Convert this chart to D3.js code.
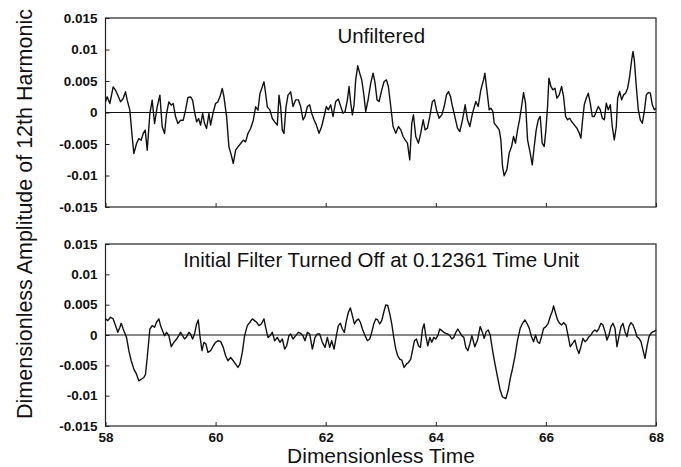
<!DOCTYPE html>
<html>
<head>
<meta charset="utf-8">
<script src="https://cdn.jsdelivr.net/npm/d3@7"></script>
<style>
  body { margin: 0; background: #fff; }
  svg { display: block; font-family: "Liberation Sans", Arial, sans-serif; }
  .tick text { font-size: 13.5px; font-weight: bold; fill: #111; }
  .tick line { stroke: #222; }
</style>
</head>
<body>
<svg id="chart"></svg>
<script>
const size = { w: 681, h: 467 };

// time axis (dimensionless) and amplitude ticks
const xTicks = [58, 60, 62, 64, 66, 68];
const yTicks = [0.015, 0.01, 0.005, 0, -0.005, -0.01, -0.015];
const yTickLabels = ['0.015', '0.01', '0.005', '0', '-0.005', '-0.01', '-0.015'];
const panelTitles = ['Unfiltered', 'Initial Filter Turned Off at 0.12361 Time Unit'];

// [time, amplitude]
const unfiltered = [
  [58.000, 0.00169], [58.030, 0.00249], [58.079, 0.00143], [58.139, 0.00407], [58.182, 0.00354],
  [58.224, 0.00275], [58.273, 0.00169], [58.321, 0.00222], [58.364, 0.00328], [58.394, 0.00196],
  [58.442, 0.00037], [58.485, -0.00386], [58.515, -0.00651], [58.564, -0.00492], [58.606, -0.00413],
  [58.648, -0.00439], [58.685, -0.00333], [58.721, -0.00280], [58.758, -0.00598], [58.806, -0.00016],
  [58.848, 0.00196], [58.891, -0.00175], [58.939, 0.00090], [58.988, 0.00275], [59.030, -0.00227],
  [59.073, -0.00333], [59.109, -0.00016], [59.151, 0.00169], [59.194, 0.00116], [59.230, 0.00143],
  [59.273, -0.00069], [59.315, -0.00175], [59.364, -0.00122], [59.412, -0.00122], [59.454, 0.00037],
  [59.497, 0.00238], [59.545, 0.00249], [59.582, 0.00196], [59.618, 0.00011], [59.655, -0.00148],
  [59.691, -0.00095], [59.727, -0.00201], [59.764, -0.00016], [59.800, -0.00175], [59.836, -0.00254],
  [59.879, -0.00016], [59.909, -0.00201], [59.958, 0.00011], [60.000, 0.00143], [60.042, 0.00169],
  [60.079, 0.00249], [60.121, 0.00381], [60.152, 0.00249], [60.200, -0.00069], [60.242, -0.00545],
  [60.285, -0.00677], [60.321, -0.00809], [60.364, -0.00598], [60.406, -0.00545], [60.455, -0.00492],
  [60.503, -0.00439], [60.545, -0.00466], [60.588, -0.00333], [60.636, -0.00254], [60.685, -0.00122],
  [60.727, 0.00090], [60.770, 0.00037], [60.806, 0.00302], [60.848, 0.00407], [60.879, 0.00487],
  [60.909, 0.00302], [60.939, 0.00090], [60.988, 0.00037], [61.030, -0.00095], [61.073, -0.00148],
  [61.121, -0.00201], [61.152, 0.00275], [61.182, 0.00090], [61.212, -0.00280], [61.242, -0.00333],
  [61.279, 0.00090], [61.315, 0.00275], [61.364, 0.00328], [61.406, 0.00095], [61.455, 0.00201],
  [61.503, 0.00201], [61.545, 0.00095], [61.588, -0.00116], [61.624, -0.00063], [61.667, 0.00095],
  [61.709, 0.00122], [61.745, -0.00011], [61.788, -0.00116], [61.830, -0.00196], [61.879, -0.00328],
  [61.927, -0.00222], [61.970, -0.00063], [62.012, 0.00095], [62.048, 0.00042], [62.091, 0.00122],
  [62.133, -0.00063], [62.182, 0.00175], [62.230, 0.00212], [62.273, 0.00095], [62.315, -0.00011],
  [62.352, 0.00016], [62.394, 0.00201], [62.424, 0.00413], [62.455, 0.00148], [62.485, -0.00037],
  [62.515, 0.00122], [62.545, 0.00518], [62.582, 0.00741], [62.618, 0.00624], [62.655, 0.00518],
  [62.697, 0.00254], [62.727, 0.00016], [62.770, 0.00201], [62.818, 0.00466], [62.861, 0.00624],
  [62.897, 0.00466], [62.933, 0.00201], [62.970, 0.00175], [63.018, 0.00360], [63.061, 0.00492],
  [63.103, 0.00518], [63.139, 0.00413], [63.182, 0.00095], [63.224, -0.00222], [63.273, -0.00328],
  [63.321, -0.00222], [63.364, -0.00275], [63.406, -0.00381], [63.442, -0.00434], [63.485, -0.00487],
  [63.527, -0.00751], [63.564, -0.00169], [63.594, -0.00037], [63.636, -0.00381], [63.685, -0.00487],
  [63.727, -0.00328], [63.770, -0.00116], [63.806, -0.00275], [63.848, -0.00249], [63.891, -0.00063],
  [63.939, 0.00175], [63.976, 0.00201], [64.012, 0.00042], [64.061, -0.00090], [64.109, -0.00037],
  [64.152, 0.00095], [64.194, 0.00280], [64.230, 0.00333], [64.267, 0.00254], [64.303, 0.00095],
  [64.352, -0.00090], [64.394, -0.00249], [64.436, -0.00302], [64.485, -0.00116], [64.533, 0.00122],
  [64.576, -0.00116], [64.618, -0.00222], [64.667, -0.00011], [64.727, 0.00175], [64.770, 0.00095],
  [64.818, 0.00360], [64.867, 0.00518], [64.891, 0.00624], [64.927, 0.00360], [64.970, 0.00042],
  [65.000, 0.00069], [65.036, 0.00016], [65.061, -0.00169], [65.109, -0.00222], [65.152, -0.00275],
  [65.182, -0.00434], [65.212, -0.00857], [65.242, -0.01005], [65.291, -0.00910], [65.333, -0.00645],
  [65.376, -0.00540], [65.412, -0.00381], [65.448, -0.00487], [65.485, -0.00275], [65.521, -0.00116],
  [65.558, 0.00095], [65.594, 0.00317], [65.630, 0.00148], [65.667, -0.00434], [65.715, -0.00645],
  [65.752, -0.00831], [65.788, -0.00540], [65.824, -0.00275], [65.861, -0.00116], [65.897, -0.00063],
  [65.933, -0.00487], [65.970, -0.00540], [66.000, -0.00275], [66.030, 0.00095], [66.055, 0.00545],
  [66.091, 0.00413], [66.127, 0.00360], [66.164, 0.00386], [66.200, 0.00227], [66.242, 0.00280],
  [66.285, 0.00413], [66.321, 0.00254], [66.358, -0.00063], [66.394, -0.00116], [66.430, -0.00090],
  [66.467, -0.00143], [66.515, -0.00196], [66.564, -0.00249], [66.606, -0.00328], [66.636, -0.00407],
  [66.667, -0.00116], [66.697, 0.00122], [66.733, 0.00227], [66.770, 0.00307], [66.806, 0.00148],
  [66.842, -0.00063], [66.879, -0.00063], [66.915, 0.00016], [66.952, 0.00095], [66.988, 0.00042],
  [67.024, -0.00090], [67.061, -0.00116], [67.097, 0.00148], [67.133, 0.00042], [67.170, 0.00122],
  [67.206, -0.00222], [67.242, -0.00434], [67.279, -0.00222], [67.303, 0.00227], [67.339, 0.00333],
  [67.376, 0.00201], [67.412, 0.00280], [67.448, 0.00307], [67.485, 0.00386], [67.521, 0.00571],
  [67.558, 0.00836], [67.582, 0.00968], [67.606, 0.00836], [67.642, 0.00413], [67.679, 0.00042],
  [67.715, -0.00116], [67.752, -0.00169], [67.788, 0.00016], [67.824, 0.00280], [67.861, 0.00317],
  [67.897, 0.00307], [67.933, 0.00122], [67.970, 0.00042], [68.000, 0.00069]
];

// [time, amplitude] with the initial filter turned off
const filtered = [
  [58.000, 0.00265], [58.042, 0.00237], [58.091, 0.00293], [58.139, 0.00265], [58.182, 0.00155],
  [58.224, 0.00044], [58.261, 0.00127], [58.285, 0.00193], [58.321, 0.00099], [58.345, 0.00044],
  [58.382, -0.00039], [58.424, -0.00259], [58.467, -0.00425], [58.515, -0.00563], [58.564, -0.00646],
  [58.606, -0.00756], [58.648, -0.00729], [58.697, -0.00701], [58.727, -0.00646], [58.758, -0.00370],
  [58.806, 0.00099], [58.848, 0.00155], [58.891, 0.00127], [58.927, 0.00210], [58.970, 0.00265],
  [59.000, 0.00155], [59.036, 0.00072], [59.073, -0.00011], [59.109, 0.00044], [59.151, -0.00011],
  [59.194, -0.00193], [59.242, -0.00121], [59.291, -0.00066], [59.333, -0.00011], [59.364, 0.00044],
  [59.400, -0.00011], [59.436, -0.00066], [59.473, -0.00028], [59.515, 0.00044], [59.545, 0.00017],
  [59.582, -0.00066], [59.618, 0.00017], [59.655, 0.00182], [59.685, 0.00248], [59.715, -0.00011],
  [59.752, -0.00259], [59.788, -0.00121], [59.824, -0.00149], [59.861, -0.00287], [59.909, -0.00259],
  [59.958, -0.00177], [60.000, -0.00121], [60.042, -0.00094], [60.091, -0.00105], [60.139, -0.00204],
  [60.182, -0.00342], [60.224, -0.00425], [60.273, -0.00370], [60.321, -0.00425], [60.364, -0.00480],
  [60.406, -0.00535], [60.442, -0.00480], [60.485, -0.00287], [60.527, -0.00011], [60.576, 0.00155],
  [60.624, 0.00210], [60.667, 0.00265], [60.709, 0.00237], [60.745, 0.00210], [60.788, 0.00155],
  [60.830, 0.00182], [60.879, 0.00265], [60.909, 0.00127], [60.952, -0.00039], [60.988, -0.00011],
  [61.030, 0.00044], [61.073, -0.00094], [61.121, -0.00039], [61.170, -0.00121], [61.212, -0.00066],
  [61.255, -0.00232], [61.291, -0.00177], [61.333, -0.00011], [61.364, 0.00017], [61.406, -0.00066],
  [61.455, -0.00011], [61.503, 0.00044], [61.545, 0.00028], [61.588, -0.00011], [61.624, -0.00094],
  [61.667, 0.00044], [61.709, 0.00017], [61.758, -0.00232], [61.806, -0.00039], [61.848, 0.00017],
  [61.891, 0.00017], [61.939, -0.00121], [61.988, -0.00204], [62.030, -0.00039], [62.073, -0.00204],
  [62.109, -0.00094], [62.152, -0.00232], [62.194, -0.00011], [62.230, 0.00155], [62.267, 0.00193],
  [62.303, 0.00099], [62.339, 0.00044], [62.376, 0.00237], [62.412, 0.00375], [62.448, 0.00447],
  [62.485, 0.00320], [62.521, 0.00182], [62.558, 0.00237], [62.594, 0.00265], [62.630, 0.00210],
  [62.667, 0.00099], [62.715, -0.00011], [62.758, -0.00094], [62.800, -0.00066], [62.836, 0.00044],
  [62.873, 0.00182], [62.909, 0.00265], [62.945, 0.00248], [62.982, 0.00182], [63.018, 0.00237],
  [63.055, 0.00375], [63.091, 0.00497], [63.127, 0.00486], [63.164, 0.00348], [63.200, 0.00182],
  [63.236, -0.00039], [63.273, -0.00232], [63.309, -0.00342], [63.345, -0.00397], [63.382, -0.00414],
  [63.424, -0.00535], [63.467, -0.00480], [63.503, -0.00453], [63.545, -0.00397], [63.576, -0.00259],
  [63.612, -0.00094], [63.648, -0.00066], [63.685, -0.00177], [63.721, -0.00204], [63.758, 0.00099],
  [63.788, 0.00182], [63.818, -0.00011], [63.855, -0.00177], [63.891, -0.00039], [63.927, -0.00121],
  [63.964, -0.00039], [64.000, -0.00066], [64.036, -0.00011], [64.073, 0.00099], [64.109, 0.00072],
  [64.145, 0.00044], [64.182, 0.00028], [64.218, 0.00017], [64.255, -0.00011], [64.291, -0.00066],
  [64.327, -0.00039], [64.364, 0.00044], [64.400, 0.00099], [64.436, 0.00044], [64.473, -0.00011],
  [64.509, -0.00039], [64.545, -0.00204], [64.582, -0.00259], [64.618, -0.00149], [64.655, -0.00011],
  [64.709, -0.00193], [64.758, -0.00083], [64.806, 0.00138], [64.842, 0.00055], [64.879, -0.00055],
  [64.915, 0.00055], [64.952, 0.00083], [64.988, 0.00000], [65.030, -0.00248], [65.073, -0.00469],
  [65.121, -0.00690], [65.170, -0.00911], [65.212, -0.01021], [65.273, -0.01049], [65.315, -0.00911],
  [65.352, -0.00718], [65.394, -0.00552], [65.436, -0.00359], [65.485, -0.00083], [65.533, 0.00110],
  [65.576, 0.00193], [65.618, 0.00248], [65.655, 0.00193], [65.697, 0.00110], [65.739, -0.00028],
  [65.776, -0.00110], [65.812, 0.00000], [65.848, -0.00110], [65.885, -0.00138], [65.921, -0.00028],
  [65.958, 0.00110], [66.000, 0.00138], [66.042, 0.00193], [66.079, 0.00304], [66.115, 0.00386],
  [66.139, 0.00480], [66.176, 0.00359], [66.212, 0.00248], [66.248, 0.00193], [66.285, 0.00166],
  [66.321, 0.00204], [66.364, 0.00166], [66.406, -0.00028], [66.442, -0.00193], [66.485, -0.00138],
  [66.527, -0.00083], [66.564, -0.00221], [66.600, -0.00304], [66.636, -0.00193], [66.673, -0.00055],
  [66.709, -0.00110], [66.745, -0.00083], [66.782, -0.00028], [66.818, 0.00000], [66.855, 0.00055],
  [66.891, 0.00083], [66.927, 0.00055], [66.964, 0.00110], [67.000, 0.00193], [67.036, 0.00166],
  [67.073, 0.00055], [67.109, -0.00083], [67.145, 0.00000], [67.182, 0.00138], [67.218, 0.00193],
  [67.255, 0.00110], [67.291, -0.00193], [67.327, -0.00028], [67.364, 0.00138], [67.400, 0.00193],
  [67.436, 0.00055], [67.473, -0.00028], [67.509, 0.00138], [67.545, 0.00204], [67.582, 0.00166],
  [67.618, 0.00083], [67.655, -0.00028], [67.691, -0.00055], [67.727, -0.00110], [67.764, -0.00248],
  [67.800, -0.00386], [67.836, -0.00193], [67.873, -0.00028], [67.909, 0.00028], [67.945, 0.00055],
  [67.982, 0.00066], [68.000, 0.00083]
];

const svg = d3.select('svg#chart')
    .attr('width', size.w)
    .attr('height', size.h);

const x = d3.scaleLinear().domain([58, 68]).range([105.5, 656]);

// two stacked panels sharing the time axis
const panels = [
    { top: 18, bottom: 207, data: unfiltered, title: panelTitles[0], titleY: 43, labels: false },
    { top: 244, bottom: 426, data: filtered, title: panelTitles[1], titleY: 267, labels: true }
];

panels.forEach(p => {
    const y = d3.scaleLinear().domain([-0.015, 0.015]).range([p.bottom, p.top]);
    const g = svg.append('g');

    // y axis, ticks pointing inward
    g.append('g')
        .attr('transform', `translate(${x.range()[0]},0)`)
        .call(d3.axisLeft(y).tickValues(yTicks).tickSize(-4).tickPadding(8)
            .tickFormat((d, i) => yTickLabels[i]))
        .call(a => a.select('.domain').remove());

    // x axis at bottom of panel
    g.append('g')
        .attr('transform', `translate(0,${p.bottom})`)
        .call(d3.axisBottom(x).tickValues(xTicks).tickSize(-4).tickPadding(6)
            .tickFormat(d => p.labels ? d : ''))
        .call(a => a.select('.domain').remove());

    // frame
    g.append('rect')
        .attr('x', x.range()[0])
        .attr('y', p.top)
        .attr('width', x.range()[1] - x.range()[0])
        .attr('height', p.bottom - p.top)
        .attr('fill', 'none')
        .attr('stroke', '#222')
        .attr('stroke-width', 1.2);

    // zero reference line
    g.append('line')
        .attr('x1', x.range()[0])
        .attr('x2', x.range()[1])
        .attr('y1', y(0))
        .attr('y2', y(0))
        .attr('stroke', '#111')
        .attr('stroke-width', 1);

    g.append('path')
        .datum(p.data)
        .attr('fill', 'none')
        .attr('stroke', '#111')
        .attr('stroke-width', 1.4)
        .attr('stroke-linejoin', 'round')
        .attr('d', d3.line().x(d => x(d[0])).y(d => y(d[1])));

    g.append('text')
        .attr('x', (x.range()[0] + x.range()[1]) / 2 + 0.5)
        .attr('y', p.titleY)
        .attr('text-anchor', 'middle')
        .attr('font-size', 20.5)
        .attr('fill', '#111')
        .text(p.title);
});

// axis titles
svg.append('text')
    .attr('x', 381)
    .attr('y', 463)
    .attr('text-anchor', 'middle')
    .attr('font-size', 21)
    .attr('fill', '#111')
    .text('Dimensionless Time');

svg.append('text')
    .attr('transform', 'translate(32,214) rotate(-90)')
    .attr('text-anchor', 'middle')
    .attr('font-size', 21.5)
    .attr('fill', '#111')
    .text('Dimensionless Amplitude of 12th Harmonic');
</script>
</body>
</html>
